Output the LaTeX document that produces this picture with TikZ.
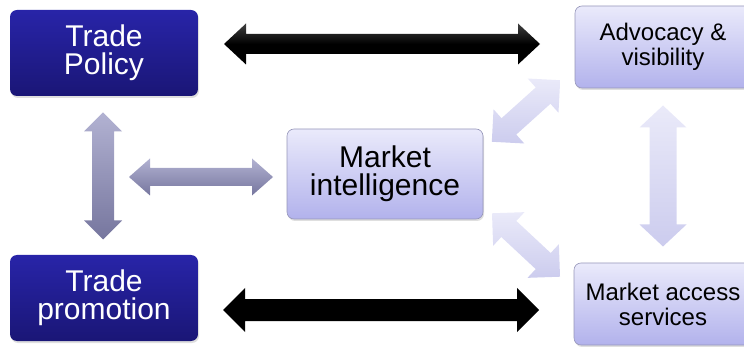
\documentclass[tikz,border=0pt]{standalone}
\usepackage{fontspec}
\setmainfont{Liberation Sans}
\usetikzlibrary{shadows}
\definecolor{dkTop}{RGB}{40,36,168}
\definecolor{dkBot}{RGB}{26,22,118}
\definecolor{ltTop}{RGB}{234,234,251}
\definecolor{ltBot}{RGB}{178,178,236}
\definecolor{ltBorder}{RGB}{150,150,185}
\definecolor{gaTop}{RGB}{178,178,210}
\definecolor{gaBot}{RGB}{118,118,158}
\definecolor{laTop}{RGB}{234,234,249}
\definecolor{laBot}{RGB}{204,204,238}
\newcommand\blockarr[8]{%
  \pgfmathsetmacro\BAa{#4/2}\pgfmathsetmacro\BAb{#4/2-#7}%
  \pgfmathsetmacro\BAs{#5/2}\pgfmathsetmacro\BAh{#6/2}%
  \begin{scope}[shift={(#1,#2)},rotate=#3]
    \path[#8] (-\BAa,0) -- (-\BAb,\BAh) -- (-\BAb,\BAs) -- (\BAb,\BAs) -- (\BAb,\BAh)
      -- (\BAa,0) -- (\BAb,-\BAh) -- (\BAb,-\BAs) -- (-\BAb,-\BAs) -- (-\BAb,-\BAh) -- cycle;
  \end{scope}}
\tikzset{
  darkbox/.style={rounded corners=7pt, top color=dkTop, bottom color=dkBot, draw=none,
    text=white, font=\fontsize{30}{28}\selectfont, align=center,
    minimum width=188pt, minimum height=86pt, inner sep=0pt,
    drop shadow={opacity=0.25, shadow xshift=1pt, shadow yshift=-2pt}},
  lightbox/.style={rounded corners=7pt, top color=ltTop, bottom color=ltBot, draw=ltBorder, line width=0.6pt,
    text=black, align=center, inner sep=0pt,
    drop shadow={opacity=0.25, shadow xshift=1pt, shadow yshift=-2pt}},
  blackarr/.style={fill=black},
  greyarr/.style={top color=gaTop, bottom color=gaBot},
  lightarr/.style={top color=laTop, bottom color=laBot}
}
\begin{document}
\begin{tikzpicture}[x=1pt,y=-1pt]
\useasboundingbox (0,0) rectangle (744,347);
% boxes
\node[darkbox] (tp) at (104,53) {Trade\\Policy};
\node[darkbox] (tpr) at (104,298) {Trade\\promotion};
\node[lightbox, minimum width=196pt, minimum height=90pt, font=\fontsize{30}{28}\selectfont] (mi) at (385,174) {Market\\intelligence};
\node[lightbox, minimum width=176pt, minimum height=82pt, font=\fontsize{24}{25}\selectfont] (av) at (663,47) {Advocacy \&\\visibility};
\node[lightbox, minimum width=178pt, minimum height=82pt, font=\fontsize{24}{25}\selectfont] (mas) at (663,304) {Market access\\services};
% block arrows
\blockarr{382}{44}{0}{316}{20}{41}{22}{top color=black!75, bottom color=black, middle color=black}
\blockarr{381}{310}{0}{316}{22}{44}{22}{blackarr}
\blockarr{103}{176}{90}{127}{22}{38}{19}{greyarr}
\blockarr{201}{177}{0}{144}{18}{37}{21}{greyarr}
\blockarr{663}{176}{90}{141}{27}{47}{22}{lightarr}
\blockarr{526}{111}{42}{92}{22}{46}{23}{lightarr}
\blockarr{526}{245}{-43}{93}{22}{46}{23}{lightarr}
\end{tikzpicture}
\end{document}
